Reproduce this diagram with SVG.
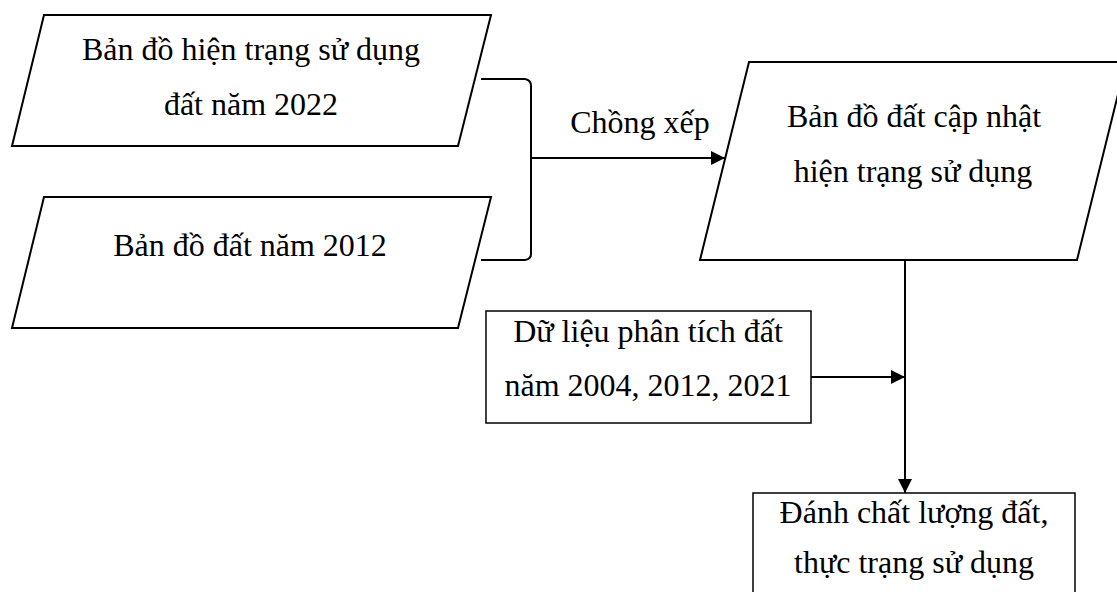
<svg xmlns="http://www.w3.org/2000/svg" width="1117" height="592" viewBox="0 0 1117 592">
<style>
.shape{fill:#fff;stroke:#000;stroke-width:2}
.box{fill:#fff;stroke:#000;stroke-width:1.5}
.conn{fill:none;stroke:#000;stroke-width:2}
text{font-family:"Liberation Serif","Times New Roman",serif;font-size:32px;fill:#000;text-anchor:middle}
</style>
<defs>
<marker id="arrow" markerWidth="14" markerHeight="14" refX="14" refY="7" orient="auto" markerUnits="userSpaceOnUse">
<path d="M0,0 L14,7 L0,14 Z" fill="#000"/>
</marker>
</defs>
<rect width="1117" height="592" fill="#fff"/>
<g id="node-map2022">
<polygon class="shape" points="44,15 491,15 458,146 12,146"/>
<text x="251" y="60">Bản đồ hiện trạng sử dụng</text>
<text x="251" y="115">đất năm 2022</text>
</g>
<g id="node-map2012">
<polygon class="shape" points="44,197 491,197 458,328 12,328"/>
<text x="250" y="256">Bản đồ đất năm 2012</text>
</g>
<g id="node-updated">
<polygon class="shape" points="749,62 1126,62 1077,260 700,260"/>
<text x="914" y="127">Bản đồ đất cập nhật</text>
<text x="913" y="182">hiện trạng sử dụng</text>
</g>
<g id="node-data">
<rect class="box" x="486" y="311" width="325" height="112"/>
<text x="648" y="342">Dữ liệu phân tích đất</text>
<text x="648" y="396">năm 2004, 2012, 2021</text>
</g>
<g id="node-assess">
<rect class="box" x="753" y="493" width="322" height="130"/>
<text x="914" y="523">Đánh chất lượng đất,</text>
<text x="914" y="573">thực trạng sử dụng</text>
</g>
<g id="connectors">
<path class="conn" d="M481,79 L525,79 Q531,80 531,86 L531,254 Q531,259 525,260 L481,260"/>
<line class="conn" x1="531" y1="158" x2="725" y2="158" marker-end="url(#arrow)"/>
<text x="640" y="133">Chồng xếp</text>
<line class="conn" x1="905" y1="260" x2="905" y2="493" marker-end="url(#arrow)"/>
<line class="conn" x1="811" y1="377" x2="905" y2="377" marker-end="url(#arrow)"/>
</g>
</svg>
